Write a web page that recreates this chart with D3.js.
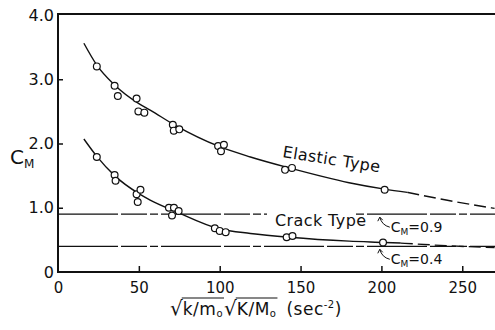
<!DOCTYPE html>
<html>
<head>
<meta charset="utf-8">
<script src="https://cdn.jsdelivr.net/npm/d3@7"></script>
<style>
  html, body { margin: 0; padding: 0; background: #fff; }
  svg { display: block; }
  text { font-family: "DejaVu Sans", "Liberation Sans", sans-serif; fill: #111; }
</style>
</head>
<body>
<svg id="chart" width="495" height="330"></svg>
<script>
// Measured points: elastic-type and crack-type C_M versus sqrt(k/m0)*sqrt(K/M0)
const elasticX = [24, 35, 37, 48.6, 49.7, 53.4, 71, 71.6, 75, 99, 100.8, 102.6, 140.4, 144.7, 202];
const elasticY = [3.2, 2.9, 2.74, 2.7, 2.5, 2.48, 2.29, 2.2, 2.22, 1.96, 1.88, 1.98, 1.59, 1.62, 1.28];
const crackX = [24, 35, 35.6, 48.6, 51, 49.3, 68.6, 71.7, 74.6, 70.5, 97, 100, 103.7, 141.4, 145, 201];
const crackY = [1.79, 1.51, 1.42, 1.21, 1.28, 1.09, 1.0, 1.0, 0.95, 0.88, 0.68, 0.64, 0.62, 0.54, 0.56, 0.46];

// Fitted curves (solid over the data range, dashed extrapolation)
const elasticFitX = [16, 24, 35, 50, 57, 72, 100, 119, 143, 180, 202, 216];
const elasticFitY = [3.56, 3.22, 2.91, 2.62, 2.52, 2.29, 1.95, 1.79, 1.62, 1.39, 1.29, 1.24];
const elasticExtX = [216, 240, 270];
const elasticExtY = [1.24, 1.12, 0.99];
const crackFitX = [16, 24, 35, 50, 57, 72, 100, 119, 143, 180, 202, 212];
const crackFitY = [2.07, 1.8, 1.5, 1.22, 1.12, 0.95, 0.67, 0.6, 0.54, 0.48, 0.46, 0.45];
const crackExtX = [212, 240, 270];
const crackExtY = [0.45, 0.41, 0.38];

// Reference levels
const refLevels = [0.9, 0.4];
const refLabels = ["0.9", "0.4"];

const xTicks = [0, 50, 100, 150, 200, 250];
const xTickLabels = ["0", "50", "100", "150", "200", "250"];
const yTicks = [0, 1, 2, 3, 4];
const yTickLabels = ["0", "1.0", "2.0", "3.0", "4.0"];

const svg = d3.select("#chart");
const x = d3.scaleLinear().domain([0, 270]).range([58, 494.6]);
const y = d3.scaleLinear().domain([0, 4]).range([272, 15]);

// Frame: left axis, bottom axis, top border
const frame = svg.append("g").attr("stroke", "#111").attr("stroke-width", 2).attr("fill", "none");
frame.append("line").attr("x1", x(0)).attr("x2", x(0)).attr("y1", y(4) - 1).attr("y2", y(0) + 1);
frame.append("line").attr("x1", x(0) - 1).attr("x2", 495).attr("y1", y(0)).attr("y2", y(0));
frame.append("line").attr("x1", x(0) - 1).attr("x2", 495).attr("y1", y(4) - 1).attr("y2", y(4) - 1);

// Axes built with d3 axis generators, inward ticks
const xAxis = d3.axisBottom(x).tickValues(xTicks).tickSize(-6).tickPadding(10)
  .tickFormat((d, i) => xTickLabels[i]);
const gx = svg.append("g").attr("transform", `translate(0,${y(0)})`).call(xAxis);
gx.select(".domain").remove();
gx.selectAll(".tick line").attr("stroke", "#111").attr("stroke-width", 1.5)
  .filter(d => d === 0).remove();
gx.selectAll(".tick text").attr("font-size", 15).attr("dy", "0.71em").attr("y", 10);

const yAxis = d3.axisLeft(y).tickValues(yTicks).tickSize(-5).tickPadding(6)
  .tickFormat((d, i) => yTickLabels[i]);
const gy = svg.append("g").attr("transform", `translate(${x(0)},0)`).call(yAxis);
gy.select(".domain").remove();
gy.selectAll(".tick line").attr("stroke", "#111").attr("stroke-width", 1.5)
  .filter(d => d === 0 || d === 4).remove();
gy.selectAll(".tick text").attr("font-size", 16).attr("x", -4);

// Reference lines C_M = 0.9 and 0.4
svg.append("g").selectAll("line").data(refLevels).join("line")
  .attr("x1", x(0)).attr("x2", 495)
  .attr("y1", d => y(d)).attr("y2", d => y(d))
  .attr("stroke", "#111").attr("stroke-width", 1.3)
  .attr("stroke-dasharray", "60,3,26,3,8,3");

// Gap in the upper reference line where the "Crack Type" label sits
svg.append("rect").attr("x", 267).attr("y", y(0.9) - 3).attr("width", 88).attr("height", 6)
  .attr("fill", "#fff");

// Curves
const line = d3.line().x(d => x(d[0])).y(d => y(d[1])).curve(d3.curveMonotoneX);
const zip = (a, b) => a.map((v, i) => [v, b[i]]);
const curves = svg.append("g").attr("fill", "none").attr("stroke", "#111").attr("stroke-width", 1.4);
curves.append("path").attr("d", line(zip(elasticFitX, elasticFitY)));
curves.append("path").attr("d", line(zip(elasticExtX, elasticExtY))).attr("stroke-dasharray", "12,5");
curves.append("path").attr("d", line(zip(crackFitX, crackFitY)));
curves.append("path").attr("d", line(zip(crackExtX, crackExtY))).attr("stroke-dasharray", "12,5");

// Data points as open circles
const pts = svg.append("g").attr("fill", "#fff").attr("stroke", "#111").attr("stroke-width", 1.2);
pts.selectAll("circle.e").data(zip(elasticX, elasticY)).join("circle").attr("class", "e")
  .attr("cx", d => x(d[0])).attr("cy", d => y(d[1])).attr("r", 3.4);
pts.selectAll("circle.c").data(zip(crackX, crackY)).join("circle").attr("class", "c")
  .attr("cx", d => x(d[0])).attr("cy", d => y(d[1])).attr("r", 3.4);

// Curve labels
svg.append("text").attr("transform", "translate(282,157) rotate(9)")
  .attr("font-size", 16).attr("letter-spacing", 0.4).text("Elastic Type");
svg.append("text").attr("x", 275).attr("y", 226)
  .attr("font-size", 16).attr("letter-spacing", 0.4).text("Crack Type");

// Reference-level annotations with small curved arrows
const ann = svg.append("g");
refLevels.forEach((lv, i) => {
  const ax = x(199), ay = y(lv) + 3;
  ann.append("path")
    .attr("d", `M${ax + 10},${ay + 10} Q${ax + 2},${ay + 8} ${ax},${ay}`)
    .attr("fill", "none").attr("stroke", "#111").attr("stroke-width", 1);
  ann.append("path")
    .attr("d", `M${ax - 2},${ay + 4} L${ax},${ay} L${ax + 3},${ay + 3}`)
    .attr("fill", "none").attr("stroke", "#111").attr("stroke-width", 1);
  const t = ann.append("text").attr("x", ax + 11).attr("y", ay + 15).attr("font-size", 14);
  t.append("tspan").text("C");
  t.append("tspan").attr("font-size", 9).attr("dy", 3).text("M");
  t.append("tspan").attr("dy", -3).text("=" + refLabels[i]);
});

// Y axis title C_M
const yt = svg.append("text").attr("x", 10).attr("y", 164).attr("font-size", 20);
yt.append("tspan").text("C");
yt.append("tspan").attr("font-size", 12).attr("dy", 4).text("M");

// X axis title with radicals
const xt = svg.append("g").attr("transform", "translate(170,315)");
let cx = 0;
function radical(parts) {
  const r = xt.append("text").attr("x", cx).attr("font-size", 20).text("√");
  const rw = r.node().getComputedTextLength();
  const start = cx + rw - 1;
  const t = xt.append("text").attr("x", cx + rw).attr("font-size", 17).attr("letter-spacing", 0.5);
  parts.forEach(p => {
    const s = t.append("tspan").text(p.t);
    if (p.sub) s.attr("font-size", 10).attr("dy", 2);
  });
  const w = t.node().getComputedTextLength();
  xt.append("line").attr("x1", start).attr("x2", cx + rw + w + 1)
    .attr("y1", -17).attr("y2", -17).attr("stroke", "#111").attr("stroke-width", 1.2);
  cx = cx + rw + w + 1;
}
radical([{ t: "k/m" }, { t: "o", sub: true }]);
radical([{ t: "K/M" }, { t: "o", sub: true }]);
const unit = xt.append("text").attr("x", cx + 9).attr("font-size", 17).attr("letter-spacing", 0.5);
unit.append("tspan").text("(sec");
unit.append("tspan").attr("font-size", 10).attr("dy", -7).text("-2");
unit.append("tspan").attr("dy", 7).text(")");
</script>
</body>
</html>
